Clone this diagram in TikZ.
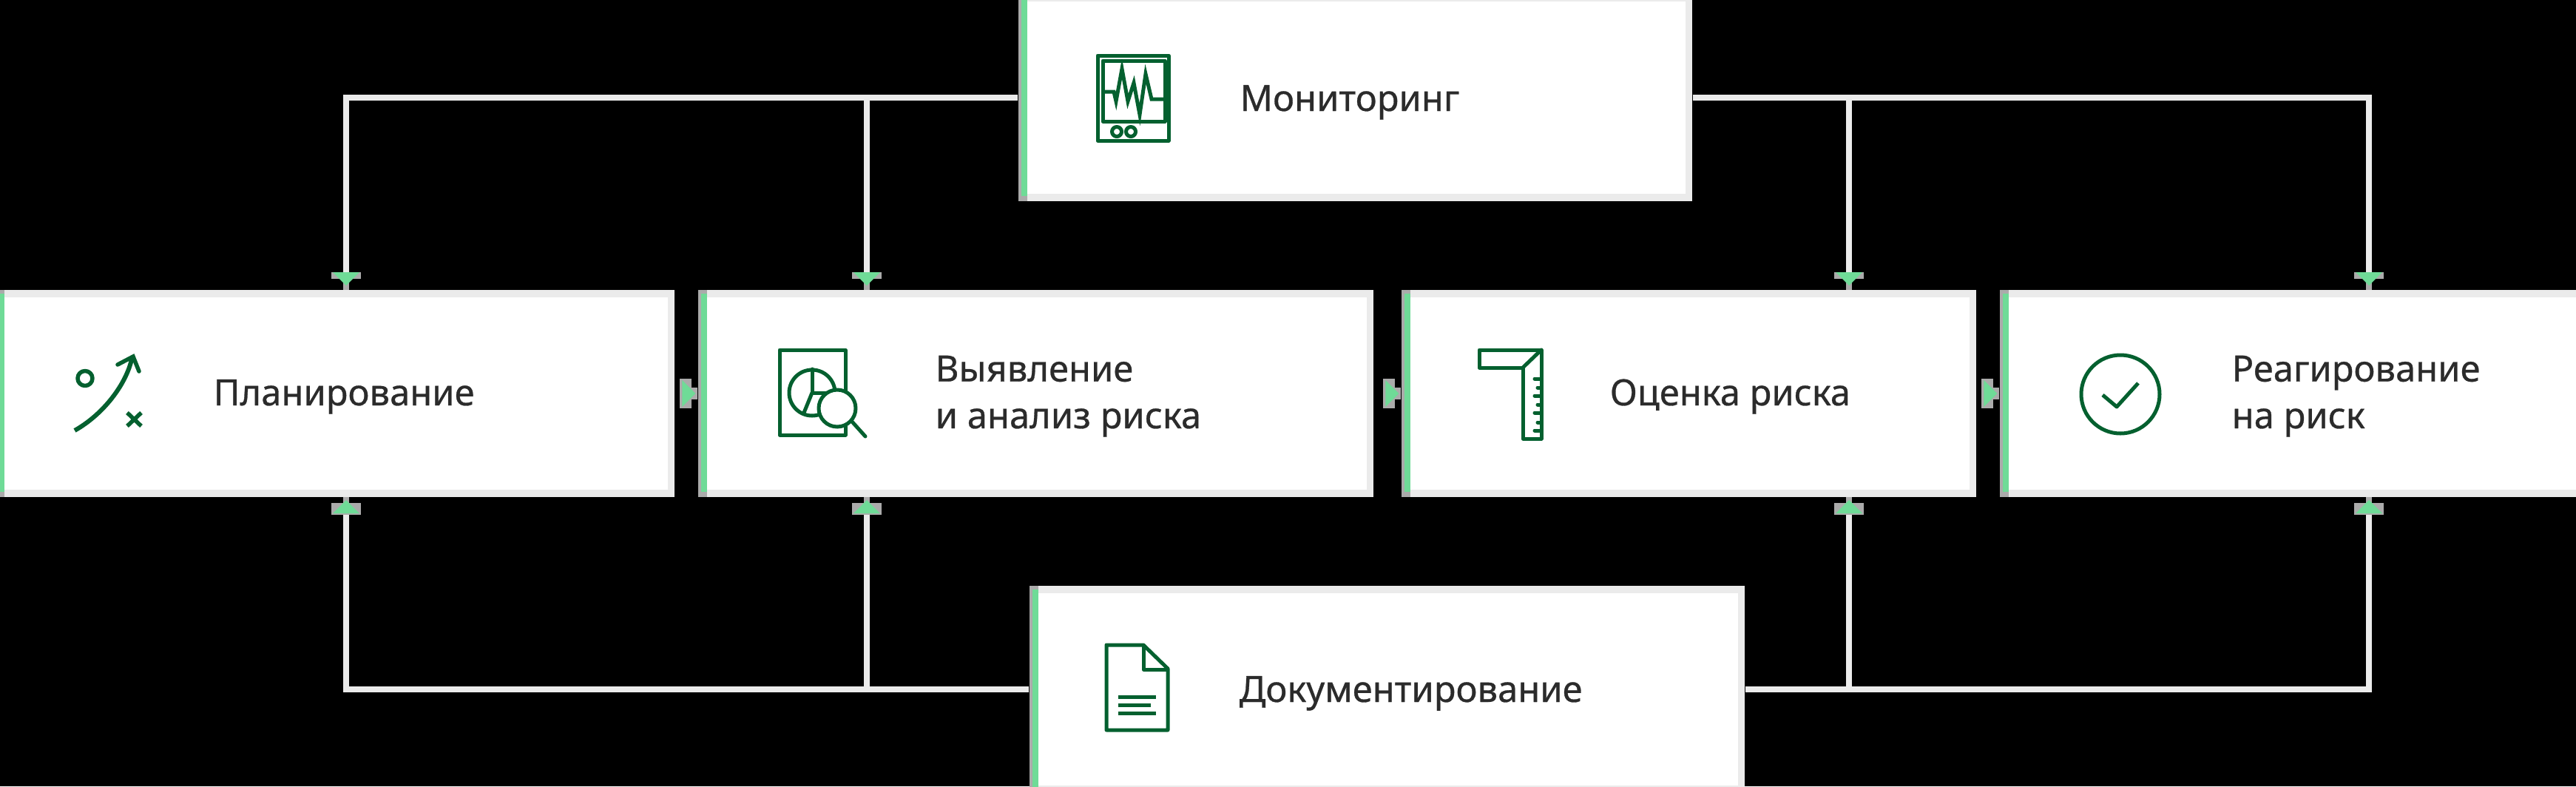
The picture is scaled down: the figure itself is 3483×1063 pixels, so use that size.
\documentclass[tikz,border=0pt]{standalone}
\usepackage{fontspec}
\setmainfont{Noto Sans}[FakeBold=0.6]
\usetikzlibrary{calc}

\definecolor{boxgrey}{HTML}{EBEBEB}
\definecolor{stemgrey}{HTML}{ABABAB}
\definecolor{tipgreen}{HTML}{6FDB97}
\definecolor{icongreen}{HTML}{04602F}
\definecolor{textdark}{HTML}{2B2B2B}

\tikzset{
    stagebox/.style={rectangle, inner sep=0pt, fill=boxgrey, minimum height=2.8cm,
        path picture={
            \coordinate (nw) at (path picture bounding box.north west);
            \coordinate (sw) at (path picture bounding box.south west);
            \coordinate (se) at (path picture bounding box.south east);
            \fill[white] ($(nw)+(12,10)$) rectangle ($(se)+(-9,-10)$);
            \fill[stemgrey] (nw) rectangle ($(sw)+(12,0)$);
            \fill[tipgreen] ($(nw)+(4,5)$) rectangle ($(sw)+(12,-7)$);
        }},
    stagelabel/.style={anchor=base west, inner sep=0pt, align=left, text=textdark,
        font=\fontsize{13.9}{18}\selectfont},
    link/.style={draw=boxgrey, line width=0.08cm},
    icon/.style={draw=icongreen, line width=0.05cm, line join=round, line cap=round},
    pics/stoptip/.style n args={3}{code={
        \fill[stemgrey] (-#1,-#3) rectangle (0,#3);
        \fill[stemgrey] (-24,-20) rectangle (-#1,20);
        \fill[tipgreen] (-#2-18,-18) -- (-#2,0) -- (-#2-18,18) -- cycle;
    }},
}

\begin{document}
\begin{tikzpicture}[x=0.01cm, y=-0.01cm]

    \useasboundingbox (0,0) rectangle (3483,1063);
    \fill[black] (0,0) rectangle (3483,1063);

    % блоки
    \foreach \name/\xl/\xr/\cy in {mon/1377/2288/132, plan/-6/912/532, ident/944/1857/532,
            assess/1895/2672/532, react/2704/3495/532, doc/1392/2359/932}
        \node[stagebox, minimum width={(\xr-\xl)*0.01cm}] (\name) at ({(\xl+\xr)/2},\cy) {};

    % точки входа на блоках
    \foreach \name/\cx in {plan/468, ident/1172, assess/2500, react/3203} {
        \coordinate (\name-top) at (\cx,392);
        \coordinate (\name-bottom) at (\cx,672);
    }

    % связи
    \draw[link] (mon.west) -| (plan-top);
    \draw[link] (mon.west) -| (ident-top);
    \draw[link] (mon.east) -| (assess-top);
    \draw[link] (mon.east) -| (react-top);
    \draw[link] (doc.west) -| (plan-bottom);
    \draw[link] (doc.west) -| (ident-bottom);
    \draw[link] (doc.east) -| (assess-bottom);
    \draw[link] (doc.east) -| (react-bottom);

    \foreach \name in {plan, ident, assess, react} {
        \pic[rotate=-90] at (\name-top) {stoptip={15}{6}{4}};
        \pic[rotate=90] at (\name-bottom) {stoptip={8}{4}{4}};
    }
    \foreach \name in {ident, assess, react}
        \pic at (\name.west) {stoptip={8}{3}{8}};

    % подписи
    \node[stagelabel] (monlabel) at (1676,150) {Мониторинг};
    \node[stagelabel] (planlabel) at (288,548) {Планирование};
    \node[stagelabel] (identlabel) at (1264,579) {Выявление\\и анализ риска};
    \node[stagelabel] (assesslabel) at (2176,548) {Оценка риска};
    \node[stagelabel] (reactlabel) at (3017,579) {Реагирование\\на риск};
    \node[stagelabel] (doclabel) at (1675,949) {Документирование};

    % монитор
    \draw[icon] (1484,75) rectangle (1580,190);
    \draw[icon] (1491,82) rectangle (1575,164);
    \draw[icon, line join=miter] (1493,124) -- (1506,124) -- (1509,137) -- (1517,93) -- (1525,137) -- (1533,112)
        -- (1541,155) -- (1549,100) -- (1557,134) -- (1574,134);
    \draw[icon] (1510,178) circle (6.5);
    \draw[icon] (1529,178) circle (6.5);

    % стрелка с отметками
    \draw[icon, line width=0.055cm] (115,511.5) circle (10);
    \draw[icon, line width=0.06cm, line cap=butt] (101,582) .. controls (140,560) and (170,520) .. (178,486);
    \draw[icon, line width=0.055cm, line join=miter] (159,493) -- (180,482) -- (188,502);
    \draw[icon, line width=0.055cm, line cap=butt] (172,558) -- (191,576);
    \draw[icon, line width=0.055cm, line cap=butt] (191,558) -- (172,576);

    % документ с лупой
    \draw[icon] (1054,473) rectangle (1143,588);
    \draw[icon] (1098,531) circle (31);
    \draw[icon] (1098,499) -- (1098,531) -- (1118,531);
    \draw[icon] (1098,531) -- (1087,558);
    \draw[icon, fill=white] (1132,552) circle (25);
    \draw[icon] (1152,570) -- (1170,590);

    % угольник
    \draw[icon] (2000,473) -- (2084,473) -- (2084,593) -- (2059,593) -- (2059,497) -- (2000,497) -- cycle;
    \draw[icon] (2059,497) -- (2084,473);
    \foreach \ty/\tx in {512/2075, 524/2079, 535/2075, 547/2079, 558/2075, 571/2079, 582/2075}
        \draw[icon] (\tx,\ty) -- (2084,\ty);

    % галочка
    \draw[icon] (2867,533) circle (53);
    \draw[icon, line cap=butt] (2843,534) -- (2862,550) -- (2891,518);

    % лист
    \draw[icon, line cap=butt] (1496,872) -- (1546,872) -- (1579,904) -- (1579,987) -- (1496,987) -- cycle;
    \draw[icon, line cap=butt] (1546,872) -- (1546,905) -- (1579,905);
    \draw[icon, line cap=butt] (1512,942) -- (1563,942);
    \draw[icon, line cap=butt] (1512,953) -- (1556,953);
    \draw[icon, line cap=butt] (1512,964) -- (1563,964);

\end{tikzpicture}
\end{document}
